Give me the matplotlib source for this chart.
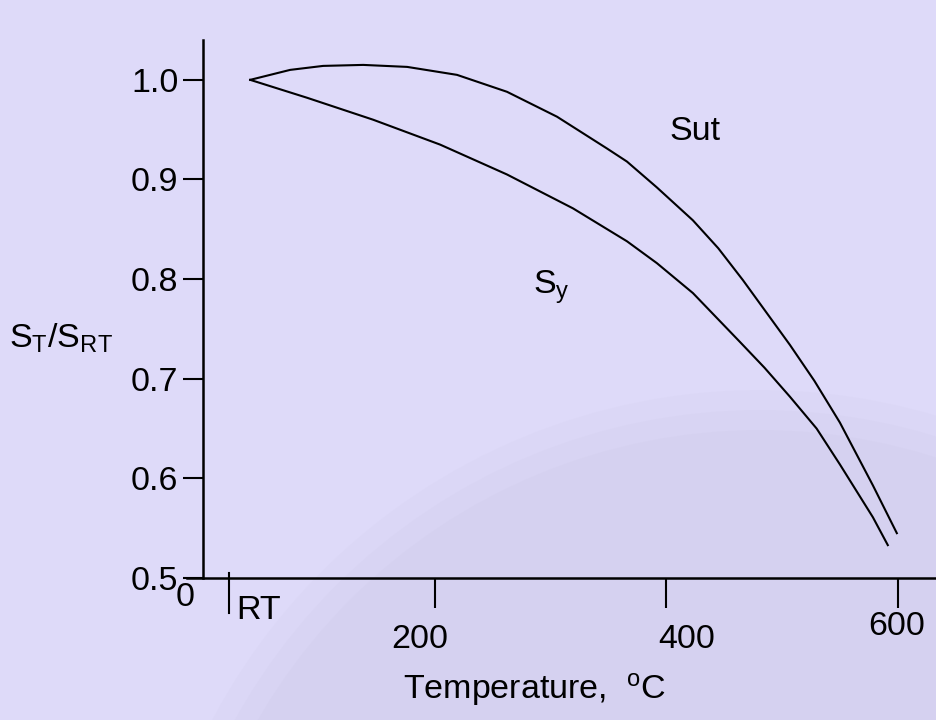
import matplotlib
matplotlib.use("Agg")
import matplotlib.pyplot as plt
from matplotlib.patches import Ellipse

plt.rcParams['font.family'] = ['Liberation Sans', 'DejaVu Sans']
plt.rcParams['mathtext.fontset'] = 'custom'
plt.rcParams['mathtext.rm'] = 'Liberation Sans'
plt.rcParams['mathtext.it'] = 'Liberation Sans'

# values (temperature in C, strength ratio)
sut_temp = [40.6, 75.1, 103.6, 138.2, 176.2, 219.3, 262.5, 305.7, 349.0, 366.1,
            392.0, 423.1, 445.0, 466.3, 506.9, 528.0, 550.1, 578.6, 599.3]
sut_ratio = [1.000, 1.010, 1.014, 1.015, 1.013, 1.005, 0.988, 0.963, 0.931, 0.918,
             0.892, 0.859, 0.831, 0.799, 0.734, 0.698, 0.656, 0.593, 0.545]
sy_temp = [40.6, 89.8, 146.8, 204.7, 262.5, 319.5, 366.1, 392.0, 423.1, 463.7,
           485.0, 506.9, 530.0, 550.1, 578.6, 591.5]
sy_ratio = [1.000, 0.982, 0.960, 0.935, 0.905, 0.871, 0.838, 0.816, 0.786, 0.737,
            0.711, 0.682, 0.650, 0.614, 0.561, 0.533]
y_ticks = [0.5, 0.6, 0.7, 0.8, 0.9, 1.0]
x_ticks = [200, 400, 600]
rt_temp = 22

bg = '#DEDAF9'
fs = 24.5

fig = plt.figure(figsize=(9.37, 7.2), dpi=100, facecolor=bg)
# faint globe in the background, soft edge from a few stacked discs
for r, a in [(620, 0.15), (600, 0.2), (580, 0.25)]:
    globe = Ellipse((760 / 937, 1 - 1010 / 720), 2 * r / 937, 2 * r / 720,
                    transform=fig.transFigure, color='#CFCBE8', alpha=a,
                    lw=0, zorder=-1)
    fig.patches.append(globe)

ax = fig.add_axes([187 / 937, 1 - 578 / 720, 750 / 937, 538 / 720])
ax.set_facecolor('none')
ax.set_xlim(-14, 634)
ax.set_ylim(0.5, 1.04)

ax.plot(sut_temp, sut_ratio, color='black', lw=1.5, solid_joinstyle='round')
ax.plot(sy_temp, sy_ratio, color='black', lw=1.5, solid_joinstyle='round')

for s in ['top', 'right']:
    ax.spines[s].set_visible(False)
ax.spines['left'].set_position(('data', 0))
ax.spines['left'].set_linewidth(1.8)
ax.spines['bottom'].set_linewidth(1.8)

ax.set_yticks(y_ticks)
ax.set_yticklabels(['%.1f' % v for v in y_ticks], fontsize=fs)
ax.tick_params(axis='y', length=14.4, width=1.5, pad=3.5)
ax.set_xticks(x_ticks)
ax.set_xticklabels([])
ax.tick_params(axis='x', length=21.6, width=1.5)

# RT marker crossing the axis
ax.plot([rt_temp, rt_temp], [0.505, 0.465], color='black', lw=1.5, clip_on=False)

ax.text(-15.5, 0.480, '0', fontsize=fs, ha='center', va='center')
ax.text(47.5, 0.467, 'RT', fontsize=fs, ha='center', va='center')
ax.text(187, 0.438, '200', fontsize=fs, ha='center', va='center')
ax.text(418, 0.438, '400', fontsize=fs, ha='center', va='center')
ax.text(599, 0.451, '600', fontsize=fs, ha='center', va='center')
ax.text(286, 0.388, r'Temperature,  $\mathregular{^o}$C', fontsize=fs,
        ha='center', va='center')

ax.text(425, 0.948, 'Sut', fontsize=fs, ha='center', va='center')
ax.text(301, 0.792, r'S$\mathregular{_y}$', fontsize=fs, ha='center', va='center')

fig.text(61 / 937, 1 - 338 / 720, r'S$\mathregular{_T}$/S$\mathregular{_{RT}}$',
         fontsize=fs, ha='center', va='center')

fig.savefig('out.png', dpi=100, facecolor=bg)
